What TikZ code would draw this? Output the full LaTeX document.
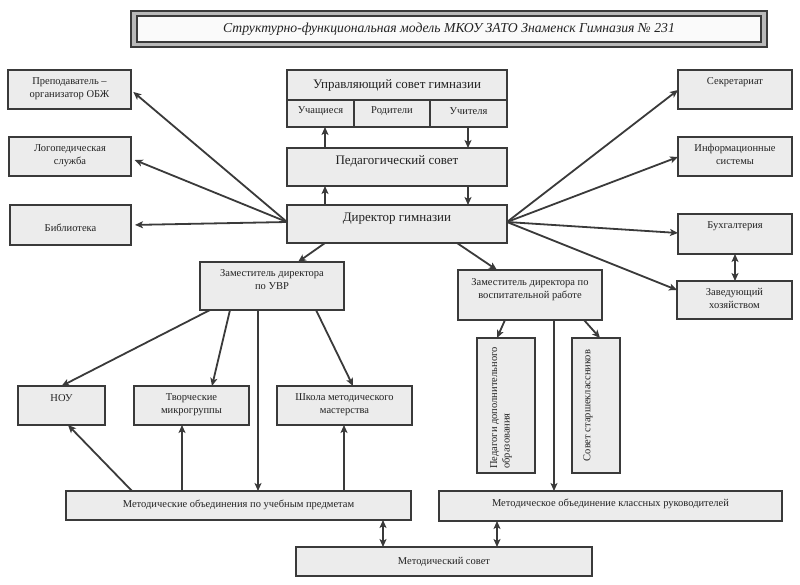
\documentclass[tikz,border=0pt]{standalone}
\usepackage{fontspec}
\setmainfont{Liberation Serif}
\usetikzlibrary{arrows.meta,calc}
\definecolor{ln}{HTML}{3A3A3A}
\definecolor{bx}{HTML}{ECECEC}
\definecolor{tx}{HTML}{222222}
\newcommand\mybox[5]{\node[box,minimum width={#4-#2},minimum height={#5-#3}] (#1) at ({(#2+#4)/2},{(#3+#5)/2}) {};}
\begin{document}
\begin{tikzpicture}[x=1pt,y=-1pt,
  box/.style={draw=ln,line width=2.2pt,fill=bx,inner sep=0pt,outer sep=0pt},
  txt/.style={font=\fontsize{10.5}{12.5}\selectfont,align=center,text=tx,inner sep=0pt},
  big/.style={font=\fontsize{13}{15}\selectfont,align=center,text=tx,inner sep=0pt},
  tip/.tip={Stealth[length=8pt,width=7pt,inset=2pt]},
  arr/.style={draw=ln,line width=1.8pt,-tip},
  darr/.style={draw=ln,line width=1.8pt,tip-tip}]
\useasboundingbox (0,0) rectangle (800,585);
\fill[white] (0,0) rectangle (800,585);

% title
\node[draw=ln,line width=1.8pt,fill=gray!55,minimum width=636,minimum height=36,inner sep=0pt] (title) at (449,29) {};
\node[draw=ln,line width=1.3pt,fill=white!96!gray,minimum width=624,minimum height=26,inner sep=0pt] (title-in) at (449,29) {};
\node[font=\fontsize{13.7}{15}\selectfont\itshape,text=tx] (title-t) at (title-in.center) {Структурно-функциональная модель МКОУ ЗАТО Знаменск Гимназия № 231};

% left column
\mybox{obzh}{8}{70}{131}{109}
\node[txt] (obzh-t) at (69.5,88.5) {Преподаватель –\\организатор ОБЖ};
\mybox{logo}{9}{137}{131}{176}
\node[txt] (logo-t) at (70,155.5) {Логопедическая\\служба};
\mybox{bibl}{10}{205}{131}{245}
\node[txt] (bibl-t) at (70.5,228) {Библиотека};

% centre column
\mybox{upr}{287}{70}{507}{100}
\node[big] (upr-t) at (397,85) {Управляющий совет гимназии};
\mybox{ucha}{287}{100}{354}{127}
\node[txt] (ucha-t) at (320.5,111.5) {Учащиеся};
\mybox{rod}{354}{100}{430}{127}
\node[txt] (rod-t) at (392,111.5) {Родители};
\mybox{uch}{430}{100}{507}{127}
\node[txt] (uch-t) at (468.5,111.5) {Учителя};
\mybox{ped}{287}{148}{507}{186}
\node[big] (ped-t) at (397,161) {Педагогический совет};
\mybox{dir}{287}{205}{507}{243}
\node[big] (dir-t) at (397,219) {Директор гимназии};

% right column
\mybox{secr}{678}{70}{792}{109}
\node[txt] (secr-t) at (735,82.5) {Секретариат};
\mybox{info}{678}{137}{792}{176}
\node[txt] (info-t) at (735,154.5) {Информационные\\системы};
\mybox{buh}{678}{214}{792}{254}
\node[txt] (buh-t) at (735,226.5) {Бухгалтерия};
\mybox{zav}{677}{281}{792}{319}
\node[txt] (zav-t) at (734.5,298.5) {Заведующий\\хозяйством};

% deputies
\mybox{uvr}{200}{262}{344}{310}
\node[txt] (uvr-t) at (272,279.5) {Заместитель директора\\по УВР};
\mybox{vosp}{458}{270}{602}{320}
\node[txt] (vosp-t) at (530,289.5) {Заместитель директора по\\воспитательной работе};

% third row
\mybox{nou}{18}{386}{105}{425}
\node[txt] (nou-t) at (61.5,398.5) {НОУ};
\mybox{tvor}{134}{386}{249}{425}
\node[txt] (tvor-t) at (191.5,404.5) {Творческие\\микрогруппы};
\mybox{shk}{277}{386}{412}{425}
\node[txt] (shk-t) at (344.5,404.5) {Школа методического\\мастерства};
\mybox{pdo}{477}{338}{535}{473}
\node[txt,rotate=90,align=left] (pdo-t) at (501,408) {Педагоги дополнительного\\образования};
\mybox{sst}{572}{338}{620}{473}
\node[txt,rotate=90] (sst-t) at (588,405.5) {Совет старшеклассников};

% bottom rows
\mybox{mou}{66}{491}{411}{520}
\node[txt] (mou-t) at (238.5,505) {Методические объединения по учебным предметам};
\mybox{mok}{439}{491}{782}{521}
\node[txt] (mok-t) at (610.5,504) {Методическое объединение классных руководителей};
\mybox{ms}{296}{547}{592}{576}
\node[txt] (ms-t) at (444,562) {Методический совет};

% helper columns
\coordinate (cL) at (325,0);
\coordinate (cR) at (468,0);
\coordinate (cU) at (258,0);
\coordinate (cT) at (182,0);
\coordinate (cS) at (344,0);
\coordinate (cM1) at (383,0);
\coordinate (cM2) at (497,0);
\coordinate (cV) at (554,0);

% centre vertical arrows
\draw[arr] (ped.north -| cL) -- (ucha.south -| cL);
\draw[arr] (uch.south -| cR) -- (ped.north -| cR);
\draw[arr] (dir.north -| cL) -- (ped.south -| cL);
\draw[arr] (ped.south -| cR) -- (dir.north -| cR);

% director to left
\draw[arr,shorten >=3pt] ([yshift=2pt]dir.west) -- ([yshift=-0.5pt]obzh.east);
\draw[arr,shorten >=4pt] ([yshift=2pt]dir.west) -- ([yshift=-2pt]logo.east);
\draw[arr,shorten >=4pt] ([yshift=2pt]dir.west) -- (bibl.east);
% director to right
\draw[arr] ([yshift=2pt]dir.east) -- ([yshift=-0.5pt]secr.west);
\draw[arr] ([yshift=2pt]dir.east) -- ([yshift=-0.5pt]info.west);
\draw[arr] ([yshift=2pt]dir.east) -- ([yshift=1pt]buh.west);
\draw[arr] ([yshift=2pt]dir.east) -- ([yshift=10pt]zav.west);
\draw[darr] (buh.south) -- (zav.north -| buh.south);

% director to deputies
\draw[arr] (dir.south -| cL) -- ([xshift=26pt]uvr.north);
\draw[arr] ([xshift=60pt]dir.south) -- ([xshift=-33pt]vosp.north);

% from УВР
\draw[arr] ([xshift=-62pt]uvr.south) -- (nou.north);
\draw[arr] ([xshift=-42pt]uvr.south) -- ([xshift=20.5pt]tvor.north);
\draw[arr] (uvr.south -| cU) -- (mou.north -| cU);
\draw[arr] ([xshift=44pt]uvr.south) -- ([xshift=8.5pt]shk.north);

% from МО по предметам
\draw[arr] ([xshift=-106.5pt]mou.north) -- ([xshift=6.5pt]nou.south);
\draw[arr] (mou.north -| cT) -- (tvor.south -| cT);
\draw[arr] (mou.north -| cS) -- (shk.south -| cS);

% to Методический совет
\draw[darr] (mou.south -| cM1) -- (ms.north -| cM1);
\draw[darr] (mok.south -| cM2) -- (ms.north -| cM2);

% from воспитательной
\draw[arr] ([xshift=-25pt]vosp.south) -- ([xshift=-9pt]pdo.north);
\draw[arr] (vosp.south -| cV) -- (mok.north -| cV);
\draw[arr] ([xshift=54pt]vosp.south) -- ([xshift=4pt]sst.north);
\end{tikzpicture}
\end{document}
